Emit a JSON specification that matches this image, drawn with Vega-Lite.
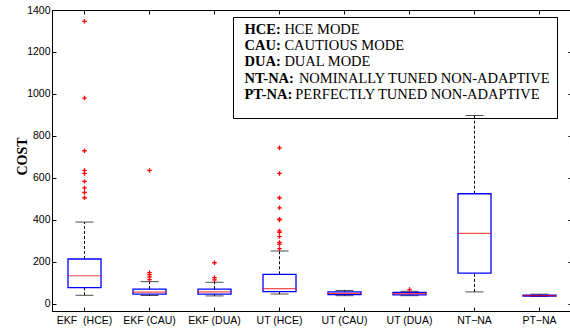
{
  "$schema": "https://vega.github.io/schema/vega-lite/v6.json",
  "autosize": {"type": "none"},
  "padding": {"left": 52, "top": 10, "right": 0, "bottom": 18},
  "width": 520,
  "height": 301,
  "background": "white",
  "config": {
    "view": {"stroke": "black", "strokeWidth": 1},
    "axis": {
      "domainColor": "black", "domainWidth": 1, "tickColor": "black", "tickWidth": 1,
      "tickSize": -4, "grid": false, "labelFont": "Liberation Sans", "labelFontSize": 10.5,
      "labelColor": "black"
    }
  },
  "datasets": {
    "boxes": [
      {"group": "EKF\u00a0 (HCE)", "lower": 40, "q1": 76, "median": 133, "q3": 213, "upper": 389},
      {"group": "EKF (CAU)", "lower": 39, "q1": 45, "median": 55, "q3": 69, "upper": 105},
      {"group": "EKF (DUA)", "lower": 37, "q1": 45, "median": 56, "q3": 69, "upper": 102},
      {"group": "UT (HCE)", "lower": 46, "q1": 57, "median": 72, "q3": 140, "upper": 251},
      {"group": "UT (CAU)", "lower": 38, "q1": 43, "median": 49, "q3": 56, "upper": 63},
      {"group": "UT (DUA)", "lower": 38, "q1": 42, "median": 48, "q3": 54, "upper": 59},
      {"group": "NT\u2212NA", "lower": 56, "q1": 146, "median": 335, "q3": 524, "upper": 897},
      {"group": "PT\u2212NA", "lower": 34, "q1": 36, "median": 38, "q3": 40, "upper": 45}
    ],
    "outliers": [
      {"group": "EKF\u00a0 (HCE)", "cost": 1346},
      {"group": "EKF\u00a0 (HCE)", "cost": 980},
      {"group": "EKF\u00a0 (HCE)", "cost": 729},
      {"group": "EKF\u00a0 (HCE)", "cost": 635},
      {"group": "EKF\u00a0 (HCE)", "cost": 621},
      {"group": "EKF\u00a0 (HCE)", "cost": 583},
      {"group": "EKF\u00a0 (HCE)", "cost": 552},
      {"group": "EKF\u00a0 (HCE)", "cost": 530},
      {"group": "EKF\u00a0 (HCE)", "cost": 505},
      {"group": "EKF (CAU)", "cost": 635},
      {"group": "EKF (CAU)", "cost": 148},
      {"group": "EKF (CAU)", "cost": 138},
      {"group": "EKF (CAU)", "cost": 128},
      {"group": "EKF (CAU)", "cost": 115},
      {"group": "EKF (DUA)", "cost": 195},
      {"group": "EKF (DUA)", "cost": 124},
      {"group": "EKF (DUA)", "cost": 113},
      {"group": "UT (HCE)", "cost": 743},
      {"group": "UT (HCE)", "cost": 621},
      {"group": "UT (HCE)", "cost": 505},
      {"group": "UT (HCE)", "cost": 457},
      {"group": "UT (HCE)", "cost": 403},
      {"group": "UT (HCE)", "cost": 399},
      {"group": "UT (HCE)", "cost": 347},
      {"group": "UT (HCE)", "cost": 340},
      {"group": "UT (HCE)", "cost": 320},
      {"group": "UT (HCE)", "cost": 292},
      {"group": "UT (HCE)", "cost": 284},
      {"group": "UT (HCE)", "cost": 262},
      {"group": "UT (DUA)", "cost": 67}
    ],
    "notes": [
      {"key": "\u200bHCE:", "desc": "\u200b\u00a0\u00a0\u00a0\u00a0\u00a0\u00a0\u00a0\u00a0\u00a0\u00a0\u00a0HCE MODE"},
      {"key": "\u200bCAU:", "desc": "\u200b\u00a0\u00a0\u00a0\u00a0\u00a0\u00a0\u00a0\u00a0\u00a0\u00a0\u00a0CAUTIOUS MODE"},
      {"key": "\u200bDUA:", "desc": "\u200b\u00a0\u00a0\u00a0\u00a0\u00a0\u00a0\u00a0\u00a0\u00a0\u00a0\u00a0DUAL MODE"},
      {"key": "\u200bNT-NA:", "desc": "\u200b\u00a0\u00a0\u00a0\u00a0\u00a0\u00a0\u00a0\u00a0\u00a0\u00a0\u00a0\u00a0\u00a0\u00a0\u00a0NOMINALLY TUNED NON-ADAPTIVE"},
      {"key": "\u200bPT-NA:", "desc": "\u200b\u00a0\u00a0\u00a0\u00a0\u00a0\u00a0\u00a0\u00a0\u00a0\u00a0\u00a0\u00a0\u00a0\u00a0PERFECTLY TUNED NON-ADAPTIVE"}
    ]
  },
  "resolve": {"axis": {"x": "independent", "y": "independent"}},
  "layer": [
    {
      "data": {"name": "boxes"},
      "mark": {"type": "rule", "color": "black", "strokeWidth": 1, "strokeDash": [3, 2]},
      "encoding": {
        "x": {"field": "group", "type": "nominal", "sort": null,
          "scale": {"paddingInner": 0, "paddingOuter": 0},
          "axis": {"orient": "bottom", "title": null, "labelAngle": 0, "labelPadding": 8}},
        "y": {"field": "lower", "type": "quantitative",
          "scale": {"domain": [-35, 1400], "nice": false, "zero": false},
          "axis": {"orient": "left", "values": [0, 200, 400, 600, 800, 1000, 1200, 1400],
            "format": "d",
            "title": "COST", "titleFont": "Liberation Serif", "titleFontWeight": "bold",
            "titleFontSize": 14, "titleColor": "black", "titlePadding": -3, "titleY": 146,
            "labelPadding": 6}},
        "y2": {"field": "q1"}
      }
    },
    {
      "data": {"name": "boxes"},
      "mark": {"type": "rule", "color": "black", "strokeWidth": 1, "strokeDash": [3, 2]},
      "encoding": {
        "x": {"field": "group", "type": "nominal", "sort": null, "axis": null},
        "y": {"field": "q3", "type": "quantitative", "axis": null},
        "y2": {"field": "upper"}
      }
    },
    {
      "data": {"name": "boxes"},
      "mark": {"type": "tick", "color": "black", "size": 18, "thickness": 1},
      "encoding": {
        "x": {"field": "group", "type": "nominal", "sort": null, "axis": null},
        "y": {"field": "lower", "type": "quantitative", "axis": null}
      }
    },
    {
      "data": {"name": "boxes"},
      "mark": {"type": "tick", "color": "black", "size": 18, "thickness": 1},
      "encoding": {
        "x": {"field": "group", "type": "nominal", "sort": null, "axis": null},
        "y": {"field": "upper", "type": "quantitative", "axis": null}
      }
    },
    {
      "data": {"name": "boxes"},
      "mark": {"type": "bar", "filled": false, "color": "#0000ff", "strokeWidth": 1.3, "size": 33},
      "encoding": {
        "x": {"field": "group", "type": "nominal", "sort": null,
          "axis": {"orient": "top", "title": null, "labels": false}},
        "y": {"field": "q1", "type": "quantitative",
          "axis": {"orient": "right", "title": null, "labels": false,
            "values": [0, 200, 400, 600, 800, 1000, 1200, 1400]}},
        "y2": {"field": "q3"}
      }
    },
    {
      "data": {"name": "boxes"},
      "mark": {"type": "tick", "color": "#ff0000", "size": 33, "thickness": 1.2},
      "encoding": {
        "x": {"field": "group", "type": "nominal", "sort": null, "axis": null},
        "y": {"field": "median", "type": "quantitative", "axis": null}
      }
    },
    {
      "data": {"name": "outliers"},
      "mark": {"type": "point", "shape": "M-1,0L1,0M0,-1L0,1", "filled": false,
        "color": "#ff0000", "strokeWidth": 1.3, "size": 20, "opacity": 1},
      "encoding": {
        "x": {"field": "group", "type": "nominal", "sort": null, "axis": null},
        "y": {"field": "cost", "type": "quantitative", "axis": null}
      }
    },
    {
      "data": {"name": "notes"},
      "mark": {"type": "point", "opacity": 0},
      "encoding": {
        "color": {"field": "key", "type": "nominal", "sort": null,
          "legend": {"orient": "none", "legendX": 181, "legendY": 7, "title": null,
            "padding": 6, "rowPadding": 1.1, "symbolSize": 0, "symbolOpacity": 0,
            "symbolStrokeWidth": 0, "labelOffset": -9, "labelLimit": 600,
            "labelFont": "Liberation Serif", "labelFontWeight": "bold", "labelFontSize": 14.5,
            "labelColor": "black"}},
        "shape": {"field": "desc", "type": "nominal", "sort": null,
          "legend": {"orient": "none", "legendX": 181, "legendY": 7,
            "title": "\u00a0", "titleOrient": "bottom", "titleFontSize": 8, "titlePadding": 3,
            "padding": 6, "rowPadding": 1.1, "symbolSize": 0, "symbolOpacity": 0,
            "symbolStrokeWidth": 0, "labelOffset": -9, "labelLimit": 600,
            "labelFont": "Liberation Serif", "labelFontSize": 14.5, "labelColor": "black",
            "strokeColor": "black"}}
      }
    }
  ]
}
